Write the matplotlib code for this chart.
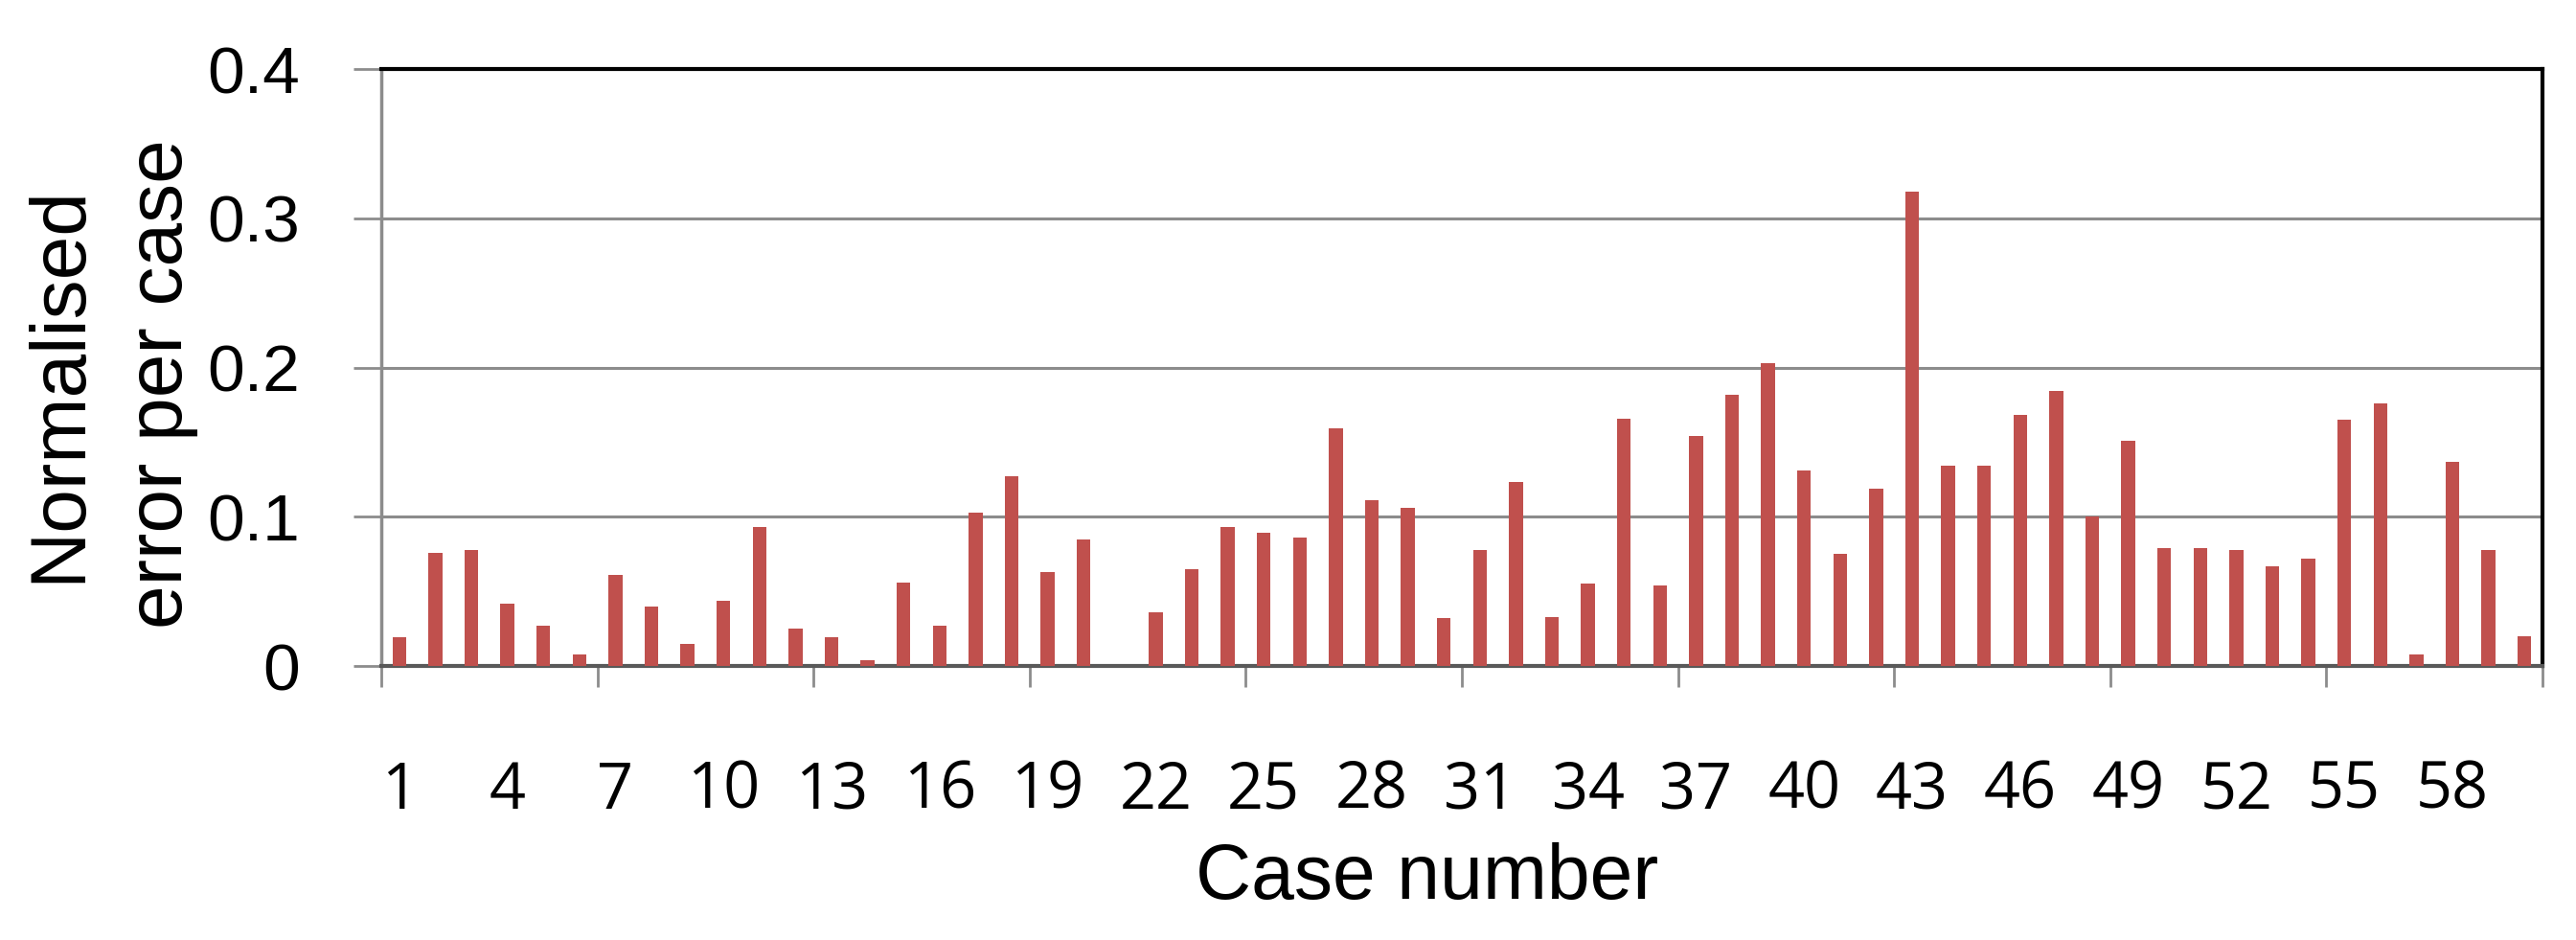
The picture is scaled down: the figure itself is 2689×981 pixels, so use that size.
import numpy as np
import matplotlib
matplotlib.use("Agg")
import matplotlib.pyplot as plt

# normalised error per case (cases 1..60)
cases = np.arange(1, 61)
errors = [0.019, 0.076, 0.078, 0.042, 0.027, 0.008, 0.061, 0.040, 0.015, 0.044,
          0.093, 0.025, 0.019, 0.004, 0.056, 0.027, 0.103, 0.127, 0.063, 0.085,
          0.000, 0.036, 0.065, 0.093, 0.089, 0.086, 0.159, 0.111, 0.106, 0.032,
          0.078, 0.123, 0.033, 0.055, 0.166, 0.054, 0.154, 0.182, 0.203, 0.131,
          0.075, 0.119, 0.318, 0.134, 0.134, 0.168, 0.184, 0.100, 0.151, 0.079,
          0.079, 0.078, 0.067, 0.072, 0.165, 0.176, 0.008, 0.137, 0.078, 0.020]
label_cases = list(range(1, 61, 3))
y_ticks = [0, 0.1, 0.2, 0.3, 0.4]
y_labels = ['0', '0.1', '0.2', '0.3', '0.4']

bar_color = '#C0504D'
grid_color = '#8C8C8C'

fig = plt.figure(figsize=(26.89, 9.81), dpi=100)
ax = fig.add_axes([0.148, 0.2915, 0.839, 0.635])

# bars + grid
ax.bar(cases, errors, width=0.38, color=bar_color, zorder=3)
ax.set_xlim(0.5, 60.5)
ax.set_ylim(0, 0.4)
ax.set_yticks(y_ticks)
ax.set_yticklabels(y_labels, fontsize=50, family='Liberation Sans')
ax.yaxis.grid(True, color=grid_color, lw=2.2, zorder=1)

# x axis: tick marks every 6 cases, labels every 3 (no marks)
ax.set_xticks(np.arange(0.5, 61, 6))
ax.set_xticklabels([])
ax.set_xticks(label_cases, minor=True)
ax.set_xticklabels([str(c) for c in label_cases], minor=True,
                   fontsize=48, family='Open Sans')
ax.tick_params(axis='x', which='major', length=16, width=2, color=grid_color, direction='out')
ax.tick_params(axis='x', which='minor', length=0, pad=70)
ax.tick_params(axis='y', length=21, width=2, color=grid_color, direction='out', pad=40)

# spines: gray axes, black frame
ax.spines['left'].set_color(grid_color)
ax.spines['left'].set_linewidth(2.5)
ax.spines['bottom'].set_color('#595959')
ax.spines['bottom'].set_linewidth(3)
for side in ['top', 'right']:
    ax.spines[side].set_color('black')
    ax.spines[side].set_linewidth(3)

fig.text(0.554, 0.0438, 'Case number', ha='center', va='baseline',
         fontsize=58, family='Liberation Sans')
fig.text(0.043, 0.592, 'Normalised\nerror per case', rotation=90, ha='center', va='center',
         multialignment='center', fontsize=59, family='Liberation Sans', linespacing=1.52)

fig.savefig('out.png', dpi=100, facecolor='white')
